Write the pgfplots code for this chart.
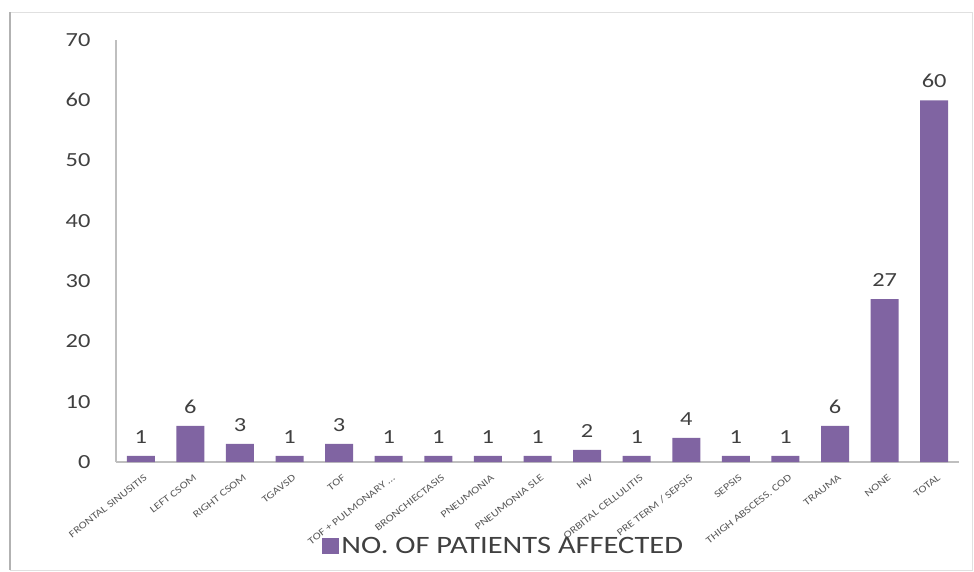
\documentclass[border=0pt]{standalone}
\usepackage{pgfplots}
\pgfplotsset{compat=1.18}
\usepackage{fontspec}
\setmainfont{Carlito}
\newfontfamily\widefont[FakeStretch=1.22]{Carlito}
\definecolor{barpurple}{HTML}{8064A2}
\definecolor{txtgray}{HTML}{404040}
\definecolor{lblgray}{HTML}{595959}
\definecolor{axgray}{HTML}{BFBFBF}
\begin{document}
\begin{tikzpicture}
\useasboundingbox (0pt,0pt) rectangle (974pt,571pt);
% outer chart frame
\draw[black!12, line width=0.8pt] (10pt,1pt) rectangle (972pt,559pt);
\draw[black!30, line width=2.5pt] (10pt,1pt) -- (10pt,559pt);
\begin{axis}[
  at={(116pt,109pt)}, anchor=south west,
  scale only axis, width=843pt, height=422pt,
  ybar, bar width=28pt,
  xmin=-0.5, xmax=16.5, ymin=0, ymax=70,
  ytick={0,10,...,70},
  xtick=data,
  xticklabels={FRONTAL SINUSITIS, LEFT CSOM, RIGHT CSOM, TGAVSD, TOF,
    TOF + PULMONARY \dots, BRONCHIECTASIS, PNEUMONIA, PNEUMONIA SLE, HIV,
    ORBITAL CELLULITIS, PRE TERM / SEPSIS, SEPSIS, THIGH ABSCESS. COD,
    TRAUMA, NONE, TOTAL},
  x tick label style={rotate=38, anchor=north east,
    font=\widefont\fontsize{10}{11}\selectfont,
    text=lblgray, inner sep=1pt, yshift=-10pt, xshift=-4pt},
  y tick label style={font=\widefont\fontsize{20}{24}\selectfont, text=txtgray, xshift=-22pt},
  /pgf/number format/assume math mode=true,
  major tick length=0pt,
  axis x line=bottom, axis y line=left,
  axis line style={axgray, line width=1.2pt, -},
  nodes near coords,
  nodes near coords style={font=\widefont\fontsize{20}{24}\selectfont, text=txtgray, yshift=9pt},
  legend style={draw=none, fill=none, at={(0.460,-0.199)}, anchor=center,
    font=\widefont\fontsize{25}{28}\selectfont, text=txtgray, legend cell align=left,
    /tikz/every even column/.append style={column sep=0pt}},
  legend image code/.code={\fill[barpurple] (0pt,-8pt) rectangle (17pt,8pt);},
]
\addplot[fill=barpurple, draw=none] coordinates {
  (0,1) (1,6) (2,3) (3,1) (4,3) (5,1) (6,1) (7,1) (8,1) (9,2)
  (10,1) (11,4) (12,1) (13,1) (14,6) (15,27) (16,60)};
\addlegendentry{NO. OF PATIENTS AFFECTED}
\end{axis}
\end{tikzpicture}
\end{document}
